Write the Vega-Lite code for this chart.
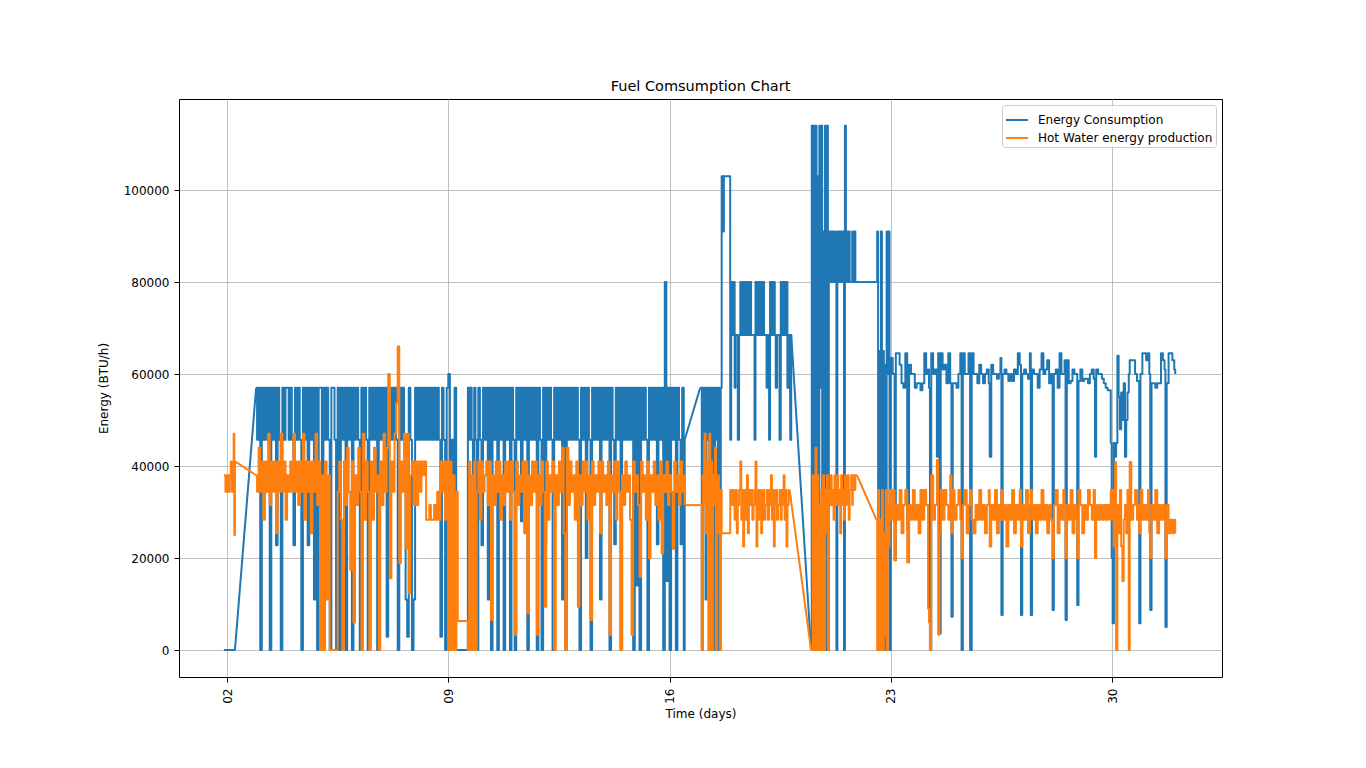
{
"$schema":"https://vega.github.io/schema/vega-lite/v6.json",
"autosize":{"type":"none"},
"padding":{"left":179,"top":99,"right":144,"bottom":91},
"width":1043,"height":578,
"background":"white",
"title":{"text":"Fuel Comsumption Chart","fontSize":14.5,"font":"DejaVu Sans","fontWeight":"normal","color":"black","offset":5},
"config":{"view":{"stroke":"black","strokeWidth":1},
"axis":{"domain":false,"tickColor":"black","tickSize":5,"tickWidth":1,"gridColor":"#b0b0b0","gridWidth":0.8,"labelFont":"DejaVu Sans","labelFontSize":12,"labelColor":"black","labelPadding":5,"titleFont":"DejaVu Sans","titleFontSize":12,"titleFontWeight":"normal","titleColor":"black"}},
"data":{"values":[
{"d":1.9,"E":0,"H":38000},{"d":1.95,"H":34400},{"d":2.0,"H":38000},{"d":2.04,"H":34400},{"d":2.08,"H":38000},{"d":2.12,"H":41000},{"d":2.15,"H":34400},{"d":2.18,"H":41000},{"d":2.21,"H":47000},{"d":2.23,"H":25000},{"d":2.25,"E":0,"H":41000},
{"d":2.92,"E":57000,"H":38000},{"d":2.95,"E":45700,"H":34400},{"d":3.0,"E":57000,"H":44000},{"d":3.05,"E":0,"H":34400},{"d":3.1,"E":57000,"H":41000},{"d":3.15,"E":45700,"H":28300},{"d":3.2,"E":57000,"H":41000},{"d":3.25,"E":45700,"H":34400},{"d":3.3,"E":57000,"H":47000},{"d":3.35,"E":0,"H":31500},{"d":3.4,"E":57000,"H":41000},{"d":3.45,"E":45700,"H":34400},{"d":3.5,"E":57000,"H":41000},{"d":3.55,"E":22800,"H":25400},{"d":3.6,"E":57000,"H":41000},{"d":3.65,"E":45700,"H":34400},{"d":3.7,"E":0,"H":47000},{"d":3.75,"E":57000,"H":34400},{"d":3.8,"E":45700,"H":41000},{"d":3.85,"E":57000,"H":28300},{"d":3.9,"E":57000,"H":38000},{"d":3.95,"E":45700,"H":34400},{"d":4.0,"E":57000,"H":41000},{"d":4.05,"E":45700,"H":34400},{"d":4.1,"E":22800,"H":47000},{"d":4.15,"E":57000,"H":34400},{"d":4.2,"E":45700,"H":41000},{"d":4.25,"E":57000,"H":31500},{"d":4.3,"E":45700,"H":41000},{"d":4.35,"E":0,"H":34400},{"d":4.4,"E":57000,"H":47000},{"d":4.45,"E":45700,"H":28300},{"d":4.5,"E":57000,"H":41000},{"d":4.55,"E":22800,"H":34400},{"d":4.6,"E":57000,"H":41000},{"d":4.65,"E":45700,"H":25400},{"d":4.7,"E":57000,"H":41000},{"d":4.75,"E":11000,"H":34400},{"d":4.8,"E":57000,"H":47000},{"d":4.85,"E":0,"H":31500},{"d":4.9,"E":57000,"H":41000},{"d":4.95,"E":57000,"H":0},{"d":5.0,"E":0,"H":38000},{"d":5.05,"E":57000,"H":0},{"d":5.1,"E":45700,"H":41000},{"d":5.15,"E":57000,"H":11000},{"d":5.2,"E":45700,"H":38000},{"d":5.25,"E":0,"H":0},{"d":5.3,"E":57000,"H":0},{"d":5.35,"E":57000,"H":0},{"d":5.4,"E":45700,"H":0},{"d":5.45,"E":0,"H":0},{"d":5.5,"E":57000,"H":34400},{"d":5.55,"E":0,"H":41000},{"d":5.6,"E":57000,"H":28300},{"d":5.65,"E":45700,"H":0},{"d":5.7,"E":57000,"H":41000},{"d":5.75,"E":0,"H":31500},{"d":5.8,"E":57000,"H":44000},{"d":5.85,"E":45700,"H":34400},{"d":5.9,"E":57000,"H":17400},{"d":5.95,"E":0,"H":41000},{"d":6.0,"E":57000,"H":6000},{"d":6.05,"E":45700,"H":38000},{"d":6.1,"E":57000,"H":31500},{"d":6.15,"E":45700,"H":44000},{"d":6.2,"E":0,"H":34400},{"d":6.25,"E":57000,"H":0},{"d":6.3,"E":45700,"H":47000},{"d":6.35,"E":57000,"H":28300},{"d":6.4,"E":45700,"H":41000},{"d":6.45,"E":0,"H":34400},{"d":6.5,"E":57000,"H":0},{"d":6.55,"E":45700,"H":41000},{"d":6.6,"E":57000,"H":28300},{"d":6.65,"E":45700,"H":44000},{"d":6.7,"E":57000,"H":34400},{"d":6.75,"E":0,"H":38000},{"d":6.8,"E":57000,"H":0},{"d":6.85,"E":45700,"H":41000},{"d":6.9,"E":57000,"H":31500},{"d":6.95,"E":45700,"H":47000},{"d":7.0,"E":57000,"H":34400},{"d":7.05,"E":2900,"H":44000},{"d":7.1,"E":57000,"H":60000},{"d":7.15,"E":45700,"H":15600},{"d":7.2,"E":57000,"H":41000},{"d":7.25,"E":45700,"H":34400},{"d":7.3,"E":57000,"H":47000},{"d":7.35,"E":45700,"H":53700},{"d":7.4,"E":0,"H":66000},{"d":7.45,"E":57000,"H":18900},{"d":7.5,"E":45700,"H":41000},{"d":7.55,"E":57000,"H":34400},{"d":7.6,"E":45700,"H":47000},{"d":7.65,"E":11000,"H":22000},{"d":7.7,"E":2900,"H":47000},{"d":7.75,"E":57000,"H":12400},{"d":7.8,"E":45700,"H":38000},{"d":7.85,"E":0,"H":41000},{"d":7.9,"E":11000,"H":31500},{"d":7.95,"E":57000,"H":41000},{"d":8.0,"E":45700,"H":31500},{"d":8.05,"E":57000,"H":41000},{"d":8.1,"E":45700,"H":34400},{"d":8.15,"E":57000,"H":41000},{"d":8.2,"E":45700,"H":38000},{"d":8.25,"E":57000,"H":41000},{"d":8.3,"E":45700,"H":28300},{"d":8.35,"E":57000,"H":28300},{"d":8.4,"E":45700,"H":31500},{"d":8.45,"E":57000,"H":28300},{"d":8.5,"E":45700,"H":28300},{"d":8.55,"E":57000,"H":31500},{"d":8.6,"E":45700,"H":28300},{"d":8.65,"E":57000,"H":34400},{"d":8.7,"E":45700,"H":28300},{"d":8.75,"E":2900,"H":41000},{"d":8.8,"E":57000,"H":34400},{"d":8.85,"E":45700,"H":41000},{"d":8.9,"E":0,"H":28300},{"d":8.95,"E":57000,"H":41000},{"d":9.0,"E":60000,"H":0},{"d":9.05,"E":0,"H":41000},{"d":9.1,"E":45700,"H":0},{"d":9.15,"E":0,"H":38000},{"d":9.2,"E":57000,"H":0},{"d":9.25,"E":0,"H":34400},{"d":9.3,"E":0,"H":6300},{"d":9.6,"E":0,"H":6300},{"d":9.62,"E":57000,"H":0},{"d":9.66,"E":45700,"H":41000},{"d":9.7,"E":57000,"H":0},{"d":9.74,"E":45700,"H":38000},{"d":9.78,"E":2900,"H":0},{"d":9.82,"E":57000,"H":41000},{"d":9.86,"E":45700,"H":0},{"d":9.9,"E":0,"H":34400},
{"d":9.95,"E":57000,"H":41000},{"d":10.0,"E":45700,"H":28300},{"d":10.05,"E":22800,"H":41000},{"d":10.1,"E":57000,"H":34400},{"d":10.15,"E":45700,"H":38000},{"d":10.2,"E":57000,"H":41000},{"d":10.25,"E":11000,"H":31500},{"d":10.3,"E":57000,"H":41000},{"d":10.35,"E":0,"H":6500},{"d":10.4,"E":57000,"H":38000},{"d":10.45,"E":45700,"H":31500},{"d":10.5,"E":57000,"H":41000},{"d":10.55,"E":0,"H":34400},{"d":10.6,"E":57000,"H":41000},{"d":10.65,"E":45700,"H":28300},{"d":10.7,"E":57000,"H":38000},{"d":10.75,"E":0,"H":31500},{"d":10.8,"E":57000,"H":41000},{"d":10.85,"E":45700,"H":34400},{"d":10.9,"E":57000,"H":41000},{"d":10.95,"E":0,"H":28300},{"d":11.0,"E":57000,"H":41000},{"d":11.05,"E":45700,"H":34400},{"d":11.1,"E":0,"H":3300},{"d":11.15,"E":57000,"H":41000},{"d":11.2,"E":45700,"H":31500},{"d":11.25,"E":57000,"H":38000},{"d":11.3,"E":28000,"H":34400},{"d":11.35,"E":57000,"H":41000},{"d":11.4,"E":45700,"H":25400},{"d":11.45,"E":57000,"H":41000},{"d":11.5,"E":0,"H":8000},{"d":11.55,"E":57000,"H":38000},{"d":11.6,"E":45700,"H":31500},{"d":11.65,"E":57000,"H":41000},{"d":11.7,"E":45700,"H":34400},{"d":11.75,"E":57000,"H":41000},{"d":11.8,"E":0,"H":3300},{"d":11.85,"E":57000,"H":38000},{"d":11.9,"E":45700,"H":31500},{"d":11.95,"E":0,"H":41000},{"d":12.0,"E":57000,"H":34400},{"d":12.05,"E":23000,"H":9400},{"d":12.1,"E":57000,"H":41000},{"d":12.15,"E":45700,"H":28300},{"d":12.2,"E":57000,"H":38000},{"d":12.25,"E":45700,"H":34400},{"d":12.3,"E":0,"H":41000},{"d":12.35,"E":57000,"H":0},{"d":12.4,"E":45700,"H":38000},{"d":12.45,"E":57000,"H":31500},{"d":12.5,"E":45700,"H":41000},{"d":12.55,"E":57000,"H":34400},{"d":12.6,"E":11000,"H":44000},{"d":12.65,"E":57000,"H":25400},{"d":12.7,"E":0,"H":0},{"d":12.75,"E":57000,"H":44000},{"d":12.8,"E":45700,"H":31500},{"d":12.85,"E":57000,"H":41000},{"d":12.9,"E":45700,"H":34400},{"d":12.95,"E":57000,"H":38000},{"d":13.0,"E":45700,"H":28300},{"d":13.05,"E":57000,"H":41000},{"d":13.1,"E":45700,"H":9400},{"d":13.15,"E":0,"H":38000},{"d":13.2,"E":57000,"H":31500},{"d":13.25,"E":45700,"H":41000},{"d":13.3,"E":57000,"H":34400},{"d":13.35,"E":20000,"H":41000},{"d":13.4,"E":57000,"H":28300},{"d":13.45,"E":45700,"H":38000},{"d":13.5,"E":0,"H":6500},{"d":13.55,"E":57000,"H":41000},{"d":13.6,"E":45700,"H":31500},{"d":13.65,"E":57000,"H":38000},{"d":13.7,"E":45700,"H":34400},{"d":13.75,"E":57000,"H":41000},{"d":13.8,"E":11000,"H":25400},{"d":13.85,"E":57000,"H":41000},{"d":13.9,"E":45700,"H":34400},{"d":13.95,"E":57000,"H":38000},{"d":14.0,"E":45700,"H":31500},{"d":14.05,"E":57000,"H":41000},{"d":14.1,"E":0,"H":3300},{"d":14.15,"E":57000,"H":38000},{"d":14.2,"E":45700,"H":34400},{"d":14.25,"E":23000,"H":41000},{"d":14.3,"E":57000,"H":28300},{"d":14.35,"E":45700,"H":41000},{"d":14.4,"E":57000,"H":34400},{"d":14.45,"E":0,"H":0},{"d":14.5,"E":57000,"H":38000},{"d":14.55,"E":45700,"H":31500},{"d":14.6,"E":57000,"H":41000},{"d":14.65,"E":45700,"H":34400},{"d":14.7,"E":57000,"H":38000},{"d":14.75,"E":45700,"H":28300},{"d":14.8,"E":57000,"H":3300},{"d":14.85,"E":0,"H":41000},{"d":14.9,"E":57000,"H":34400},{"d":14.95,"E":14000,"H":38000},{"d":15.0,"E":57000,"H":31500},{"d":15.05,"E":0,"H":15900},{"d":15.1,"E":57000,"H":41000},{"d":15.15,"E":45700,"H":34400},{"d":15.2,"E":57000,"H":38000},{"d":15.25,"E":45700,"H":28300},{"d":15.3,"E":0,"H":41000},{"d":15.35,"E":57000,"H":20000},{"d":15.4,"E":45700,"H":38000},{"d":15.45,"E":57000,"H":34400},{"d":15.5,"E":45700,"H":41000},{"d":15.55,"E":57000,"H":31500},{"d":15.6,"E":23000,"H":38000},{"d":15.65,"E":57000,"H":28300},{"d":15.7,"E":45700,"H":41000},{"d":15.75,"E":57000,"H":21000},{"d":15.8,"E":0,"H":38000},{"d":15.85,"E":80000,"H":34400},{"d":15.9,"E":15000,"H":41000},{"d":15.95,"E":57000,"H":31500},{"d":16.0,"E":0,"H":38000},{"d":16.05,"E":57000,"H":34400},{"d":16.1,"E":45700,"H":22000},{"d":16.15,"E":57000,"H":41000},{"d":16.2,"E":0,"H":34400},{"d":16.25,"E":57000,"H":38000},{"d":16.3,"E":45700,"H":31500},{"d":16.35,"E":23000,"H":41000},{"d":16.4,"E":57000,"H":34400},{"d":16.45,"E":0,"H":38000},{"d":16.48,"E":45700,"H":31500},{"d":16.97,"E":57000,"H":31500},
{"d":17.02,"E":0,"H":0},{"d":17.05,"E":57000,"H":38000},{"d":17.08,"E":45700,"H":31500},{"d":17.11,"E":57000,"H":47000},{"d":17.14,"E":11000,"H":25400},{"d":17.17,"E":57000,"H":41000},{"d":17.2,"E":45700,"H":34400},{"d":17.23,"E":57000,"H":0},{"d":17.26,"E":0,"H":47000},{"d":17.29,"E":57000,"H":0},{"d":17.32,"E":0,"H":41000},{"d":17.35,"E":57000,"H":0},{"d":17.38,"E":11000,"H":38000},{"d":17.41,"E":0,"H":31500},{"d":17.44,"E":57000,"H":44000},{"d":17.47,"E":45700,"H":0},{"d":17.5,"E":57000,"H":34400},{"d":17.53,"E":0,"H":38000},{"d":17.56,"E":57000,"H":25400},{"d":17.59,"E":0,"H":0},{"d":17.62,"E":57000,"H":34800},
{"d":17.65,"E":103000,"H":25400},{"d":17.7,"E":91000,"H":25400},{"d":17.72,"E":103000,"H":25400},{"d":17.9,"E":103000,"H":25400},{"d":17.92,"E":45700,"H":34800},{"d":17.95,"E":80000,"H":31500},{"d":18.0,"E":68500,"H":34800},{"d":18.03,"E":80000,"H":31500},{"d":18.06,"E":57000,"H":28300},{"d":18.09,"E":68500,"H":34800},{"d":18.13,"E":68500,"H":25400},{"d":18.16,"E":45700,"H":31500},{"d":18.2,"E":68500,"H":34800},{"d":18.24,"E":80000,"H":41000},{"d":18.27,"E":68500,"H":28300},{"d":18.3,"E":80000,"H":34800},{"d":18.33,"E":68500,"H":22500},{"d":18.36,"E":80000,"H":31500},{"d":18.39,"E":68500,"H":34800},{"d":18.42,"E":80000,"H":28300},{"d":18.45,"E":68500,"H":38000},{"d":18.48,"E":80000,"H":25400},{"d":18.51,"E":68500,"H":34800},{"d":18.54,"E":80000,"H":31500},{"d":18.58,"E":68500,"H":34800},{"d":18.62,"E":68500,"H":28300},{"d":18.66,"E":68500,"H":31500},{"d":18.69,"E":45700,"H":34800},{"d":18.72,"E":80000,"H":41000},{"d":18.75,"E":68500,"H":22500},{"d":18.78,"E":80000,"H":31500},{"d":18.81,"E":68500,"H":34800},{"d":18.84,"E":80000,"H":28300},{"d":18.87,"E":68500,"H":34800},{"d":18.9,"E":80000,"H":25400},{"d":18.93,"E":68500,"H":31500},{"d":18.96,"E":80000,"H":34800},{"d":18.99,"E":68500,"H":28300},{"d":19.03,"E":68500,"H":31500},{"d":19.07,"E":57000,"H":34800},{"d":19.11,"E":68500,"H":28300},{"d":19.15,"E":45700,"H":34800},{"d":19.18,"E":80000,"H":31500},{"d":19.21,"E":68500,"H":38000},{"d":19.24,"E":80000,"H":28300},{"d":19.27,"E":68500,"H":34800},{"d":19.3,"E":80000,"H":22500},{"d":19.33,"E":68500,"H":31500},{"d":19.36,"E":57000,"H":34800},{"d":19.4,"E":68500,"H":28300},{"d":19.44,"E":68500,"H":31500},{"d":19.48,"E":45700,"H":34800},{"d":19.52,"E":80000,"H":28300},{"d":19.55,"E":68500,"H":34800},{"d":19.58,"E":80000,"H":31500},{"d":19.61,"E":68500,"H":38000},{"d":19.64,"E":80000,"H":28300},{"d":19.67,"E":68500,"H":34800},{"d":19.7,"E":80000,"H":22500},{"d":19.73,"E":57000,"H":31500},{"d":19.77,"E":68500,"H":34800},{"d":19.8,"E":68500,"H":34800},{"d":19.83,"E":45700},{"d":19.85,"E":68500},{"d":20.48,"E":0,"H":0},
{"d":20.5,"E":114000,"H":0},{"d":20.53,"E":0,"H":38000},{"d":20.56,"E":114000,"H":0},{"d":20.59,"E":0,"H":34800},{"d":20.62,"E":114000,"H":44000},{"d":20.65,"E":0,"H":0},{"d":20.68,"E":103000,"H":38000},{"d":20.71,"E":0,"H":0},{"d":20.74,"E":114000,"H":31500},{"d":20.77,"E":57000,"H":0},{"d":20.8,"E":114000,"H":34800},{"d":20.83,"E":0,"H":0},{"d":20.86,"E":91000,"H":38000},{"d":20.89,"E":0,"H":0},{"d":20.92,"E":114000,"H":34800},{"d":20.95,"E":0,"H":25400},{"d":20.98,"E":114000,"H":38000},{"d":21.01,"E":0,"H":0},{"d":21.04,"E":91000,"H":34800},
{"d":21.07,"E":80000,"H":31500},{"d":21.1,"E":91000,"H":38000},{"d":21.13,"E":80000,"H":31500},{"d":21.16,"E":91000,"H":34800},{"d":21.19,"E":80000,"H":28300},{"d":21.22,"E":91000,"H":38000},{"d":21.25,"E":80000,"H":31500},{"d":21.28,"E":0,"H":34800},{"d":21.31,"E":91000,"H":38000},{"d":21.34,"E":80000,"H":31500},{"d":21.37,"E":91000,"H":34800},{"d":21.4,"E":80000,"H":25400},{"d":21.43,"E":91000,"H":38000},{"d":21.46,"E":80000,"H":31500},{"d":21.49,"E":91000,"H":34800},{"d":21.52,"E":0,"H":28300},{"d":21.55,"E":114000,"H":38000},{"d":21.58,"E":80000,"H":31500},{"d":21.61,"E":91000,"H":34800},{"d":21.64,"E":80000,"H":38000},{"d":21.67,"E":91000,"H":28300},{"d":21.7,"E":80000,"H":34800},{"d":21.75,"E":80000,"H":38000},{"d":21.78,"E":91000,"H":31500},{"d":21.8,"E":80000,"H":38000},{"d":21.85,"E":91000,"H":34800},{"d":21.88,"E":80000,"H":38000},{"d":21.93,"E":80000,"H":38000},{"d":22.55,"E":80000,"H":28300},
{"d":22.57,"E":91000,"H":0},{"d":22.6,"E":0,"H":34800},{"d":22.63,"E":65000,"H":0},{"d":22.66,"E":0,"H":28300},{"d":22.69,"E":91000,"H":0},{"d":22.72,"E":20000,"H":34800},{"d":22.75,"E":65000,"H":0},{"d":22.78,"E":0,"H":25400},{"d":22.81,"E":62000,"H":3000},{"d":22.84,"E":0,"H":34800},{"d":22.87,"E":91000,"H":0},{"d":22.9,"E":60000,"H":31500},{"d":22.93,"E":91000,"H":22500},{"d":22.96,"E":0,"H":34800},
{"d":23.0,"E":63500,"H":28300},{"d":23.06,"E":60000,"H":34800},{"d":23.12,"E":19500,"H":19500},{"d":23.16,"E":64500,"H":31500},{"d":23.22,"E":64500,"H":28300},{"d":23.28,"E":62000,"H":34800},{"d":23.34,"E":58000,"H":25400},{"d":23.4,"E":57000,"H":31500},{"d":23.46,"E":64500,"H":34800},{"d":23.52,"E":26000,"H":19000},{"d":23.58,"E":62000,"H":31500},{"d":23.64,"E":60000,"H":28300},{"d":23.7,"E":60000,"H":34800},{"d":23.76,"E":57000,"H":28300},{"d":23.82,"E":58000,"H":31500},{"d":23.88,"E":58000,"H":25400},{"d":23.94,"E":56500,"H":34800},{"d":24.0,"E":58000,"H":28300},{"d":24.06,"E":64500,"H":34800},{"d":24.12,"E":60000,"H":31500},{"d":24.18,"E":61000,"H":9000},{"d":24.21,"E":57000,"H":6000},{"d":24.24,"E":0,"H":0},{"d":24.28,"E":64500,"H":38000},{"d":24.34,"E":60000,"H":28300},{"d":24.4,"E":61000,"H":31500},{"d":24.46,"E":42000,"H":41300},{"d":24.5,"E":64500,"H":3300},{"d":24.54,"E":3600,"H":25400},{"d":24.58,"E":64500,"H":34800},{"d":24.64,"E":61000,"H":28300},{"d":24.7,"E":62000,"H":34800},{"d":24.76,"E":58000,"H":31500},{"d":24.82,"E":64500,"H":28300},{"d":24.88,"E":58000,"H":38000},{"d":24.92,"E":7250,"H":25400},{"d":24.96,"E":58000,"H":34800},{"d":25.02,"E":58000,"H":28300},{"d":25.08,"E":57000,"H":31500},{"d":25.14,"E":60000,"H":34800},{"d":25.2,"E":64500,"H":28300},{"d":25.24,"E":0,"H":20000},{"d":25.28,"E":64500,"H":31500},{"d":25.34,"E":60000,"H":34800},{"d":25.4,"E":60000,"H":25400},{"d":25.46,"E":64500,"H":31500},{"d":25.51,"E":0,"H":34800},{"d":25.56,"E":64500,"H":28300},{"d":25.62,"E":60000,"H":25400},{"d":25.68,"E":60000,"H":31500},{"d":25.74,"E":58000,"H":28300},{"d":25.8,"E":62000,"H":34800},{"d":25.86,"E":60000,"H":28300},{"d":25.92,"E":58000,"H":31500},{"d":25.98,"E":60000,"H":25400},{"d":26.04,"E":61000,"H":31500},{"d":26.1,"E":58000,"H":34800},{"d":26.13,"E":42000,"H":22500},{"d":26.18,"E":62000,"H":31500},{"d":26.24,"E":60000,"H":28300},{"d":26.3,"E":60000,"H":34800},{"d":26.36,"E":59000,"H":25400},{"d":26.42,"E":60000,"H":31500},{"d":26.47,"E":63500,"H":28300},{"d":26.5,"E":7600,"H":34800},{"d":26.54,"E":60000,"H":28300},{"d":26.6,"E":61000,"H":31500},{"d":26.66,"E":60000,"H":22500},{"d":26.72,"E":58500,"H":31500},{"d":26.78,"E":60000,"H":28300},{"d":26.84,"E":58500,"H":34800},{"d":26.9,"E":61000,"H":25400},{"d":26.96,"E":60000,"H":31500},{"d":27.02,"E":64500,"H":28300},{"d":27.08,"E":62000,"H":34800},{"d":27.12,"E":7600,"H":22500},{"d":27.16,"E":60000,"H":31500},{"d":27.22,"E":61000,"H":28300},{"d":27.28,"E":60000,"H":34800},{"d":27.34,"E":59000,"H":25400},{"d":27.4,"E":64500,"H":31500},{"d":27.43,"E":7600,"H":34800},{"d":27.47,"E":61000,"H":28300},{"d":27.53,"E":60000,"H":31500},{"d":27.59,"E":60000,"H":25400},{"d":27.65,"E":57000,"H":31500},{"d":27.71,"E":61000,"H":28300},{"d":27.77,"E":64500,"H":34800},{"d":27.83,"E":60000,"H":28300},{"d":27.89,"E":61000,"H":31500},{"d":27.95,"E":63000,"H":25400},{"d":28.01,"E":58000,"H":31500},{"d":28.07,"E":60000,"H":28300},{"d":28.12,"E":8700,"H":20000},{"d":28.16,"E":60000,"H":31500},{"d":28.22,"E":61000,"H":34800},{"d":28.28,"E":57000,"H":25400},{"d":28.34,"E":64500,"H":31500},{"d":28.4,"E":60000,"H":28300},{"d":28.46,"E":60000,"H":34800},{"d":28.5,"E":63000,"H":31500},{"d":28.53,"E":6500,"H":20000},{"d":28.57,"E":63000,"H":31500},{"d":28.63,"E":58000,"H":28300},{"d":28.69,"E":58500,"H":34800},{"d":28.75,"E":61000,"H":25400},{"d":28.81,"E":60000,"H":31500},{"d":28.87,"E":60000,"H":28300},{"d":28.9,"E":9800,"H":20000},{"d":28.94,"E":58500,"H":34800},{"d":29.0,"E":61000,"H":31500},{"d":29.06,"E":58500,"H":25400},{"d":29.12,"E":59000,"H":31500},{"d":29.18,"E":59000,"H":28300},{"d":29.24,"E":58000,"H":34800},{"d":29.3,"E":60000,"H":31500},{"d":29.36,"E":61000,"H":28300},{"d":29.42,"E":59000,"H":34800},{"d":29.46,"E":42000,"H":20000},{"d":29.5,"E":61000,"H":31500},{"d":29.56,"E":60000,"H":28300},{"d":29.62,"E":60000,"H":31500},{"d":29.68,"E":59000,"H":28300},{"d":29.74,"E":58000,"H":31500},{"d":29.8,"E":57000,"H":28300},{"d":29.86,"E":56500,"H":31500},{"d":29.92,"E":56500,"H":28300},{"d":29.96,"E":45000,"H":34800},{"d":29.99,"E":20000,"H":28300},{"d":30.02,"E":5800,"H":34800},{"d":30.06,"E":45000,"H":22500},{"d":30.1,"E":42000,"H":40900},{"d":30.13,"E":45000,"H":0},{"d":30.17,"E":64000,"H":31500},{"d":30.21,"E":55000,"H":25400},{"d":30.25,"E":48000,"H":34800},{"d":30.29,"E":56000,"H":22500},{"d":30.33,"E":50000,"H":15000},{"d":30.37,"E":58000,"H":28300},{"d":30.41,"E":42000,"H":31500},{"d":30.45,"E":50000,"H":25400},{"d":30.49,"E":56000,"H":34800},{"d":30.53,"E":60000,"H":0},{"d":30.56,"E":63000,"H":40900},{"d":30.61,"E":63000,"H":28300},{"d":30.67,"E":63000,"H":31500},{"d":30.73,"E":60000,"H":34800},{"d":30.79,"E":58500,"H":28300},{"d":30.83,"E":58500,"H":31500},{"d":30.86,"E":5800,"H":25400},{"d":30.9,"E":60000,"H":34800},{"d":30.96,"E":64500,"H":28300},{"d":31.02,"E":64500,"H":31500},{"d":31.08,"E":63000,"H":28300},{"d":31.14,"E":64500,"H":34800},{"d":31.18,"E":60000,"H":25400},{"d":31.21,"E":8700,"H":20000},{"d":31.25,"E":58000,"H":31500},{"d":31.31,"E":58000,"H":28300},{"d":31.37,"E":57000,"H":34800},{"d":31.43,"E":58000,"H":25400},{"d":31.49,"E":58000,"H":31500},{"d":31.55,"E":64500,"H":28300},{"d":31.61,"E":63000,"H":31500},{"d":31.66,"E":61000,"H":28300},{"d":31.69,"E":5000,"H":20000},{"d":31.73,"E":58000,"H":31500},{"d":31.79,"E":64500,"H":25400},{"d":31.85,"E":64500,"H":28300},{"d":31.91,"E":63000,"H":25400},{"d":31.97,"E":61000,"H":28300},{"d":32.0,"E":60000,"H":25400}
]},
"transform":[{"fold":["E","H"],"as":["s","v"]},{"filter":"isValid(datum.v)"}],
"encoding":{
"x":{"field":"d","type":"quantitative","scale":{"domain":[0.48,33.48],"nice":false,"zero":false},
"axis":{"values":[2,9,16,23,30],"labelExpr":"datum.value < 10 ? '0' + datum.value : '' + datum.value","labelAngle":-90,"labelPadding":6,"title":"Time (days)","titlePadding":5}},
"y":{"field":"v","type":"quantitative","scale":{"domain":[-5870,119800],"nice":false,"zero":false},
"axis":{"values":[0,20000,40000,60000,80000,100000],"format":"d","title":"Energy (BTU/h)","titlePadding":13}},
"color":{"field":"s","type":"nominal","scale":{"domain":["E","H"],"range":["#1f77b4","#ff7f0e"]},
"legend":{"orient":"top-right","offset":6,"title":null,"labelExpr":"datum.label == 'E' ? 'Energy Consumption' : 'Hot Water energy production'","labelLimit":0,"symbolType":"stroke","symbolStrokeWidth":2,"symbolSize":484,"labelFont":"DejaVu Sans","labelFontSize":12,"labelColor":"black","labelOffset":9,"fillColor":"rgba(255,255,255,0.8)","strokeColor":"#cccccc","cornerRadius":3,"padding":3,"rowPadding":-2}}
},
"layer":[
{"transform":[{"filter":"datum.d <= 2.25"}],"mark":{"type":"line","interpolate":"step-after","strokeWidth":2,"strokeJoin":"round","clip":true}},
{"transform":[{"filter":"datum.d >= 2.92 && datum.d <= 16.48"}],"mark":{"type":"line","interpolate":"step-after","strokeWidth":2,"strokeJoin":"round","clip":true}},
{"transform":[{"filter":"datum.d >= 16.97 && datum.d <= 19.85"}],"mark":{"type":"line","interpolate":"step-after","strokeWidth":2,"strokeJoin":"round","clip":true}},
{"transform":[{"filter":"datum.d >= 20.48 && datum.d <= 21.93"}],"mark":{"type":"line","interpolate":"step-after","strokeWidth":2,"strokeJoin":"round","clip":true}},
{"transform":[{"filter":"datum.d >= 22.55"}],"mark":{"type":"line","interpolate":"step-after","strokeWidth":2,"strokeJoin":"round","clip":true}},
{"transform":[{"filter":"datum.d >= 2.25 && datum.d <= 2.92"}],"mark":{"type":"line","strokeWidth":2,"strokeJoin":"round","clip":true}},
{"transform":[{"filter":"datum.d >= 16.48 && datum.d <= 16.97"}],"mark":{"type":"line","strokeWidth":2,"strokeJoin":"round","clip":true}},
{"transform":[{"filter":"datum.d >= 19.8 && datum.d <= 20.48"}],"mark":{"type":"line","strokeWidth":2,"strokeJoin":"round","clip":true}},
{"transform":[{"filter":"datum.d >= 21.93 && datum.d <= 22.55"}],"mark":{"type":"line","strokeWidth":2,"strokeJoin":"round","clip":true}}
]
}
